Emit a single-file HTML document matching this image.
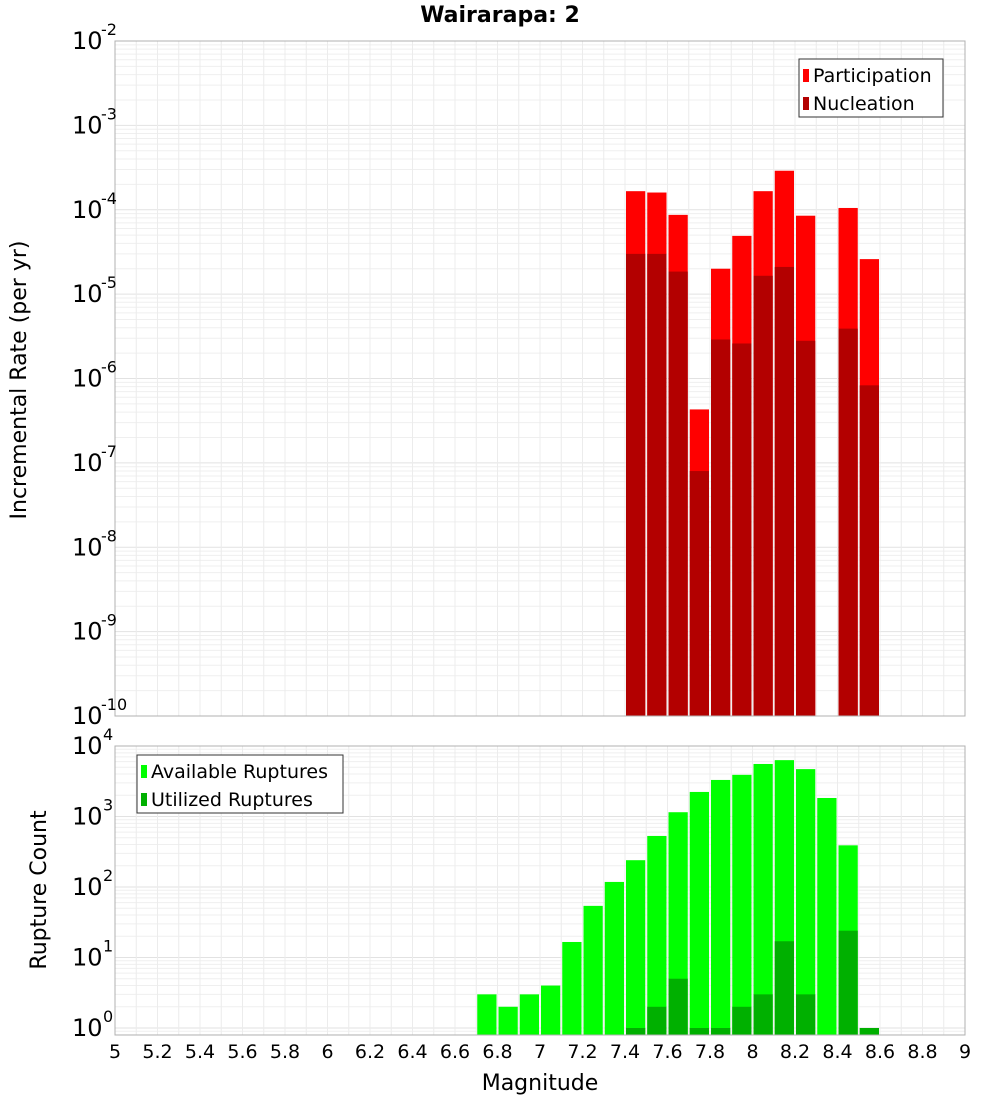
<!DOCTYPE html>
<html><head><meta charset="utf-8"><style>
body{margin:0;background:#fff;font-family:"DejaVu Sans","Liberation Sans",sans-serif}
svg text{font-family:"DejaVu Sans","Liberation Sans",sans-serif}
</style></head><body>
<svg id="c" width="1000" height="1100" xmlns="http://www.w3.org/2000/svg">
<text x="500" y="22" text-anchor="middle" font-size="22" font-weight="bold">Wairarapa: 2</text>
<g id="topg"></g><g id="botg"></g>
<text transform="translate(26,380) rotate(-90)" text-anchor="middle" font-size="22">Incremental Rate (per yr)</text>
<text transform="translate(46,890) rotate(-90)" text-anchor="middle" font-size="22">Rupture Count</text>
<text x="540" y="1090" text-anchor="middle" font-size="22">Magnitude</text>
</svg>
<script>
const bins=[7.45,7.55,7.65,7.75,7.85,7.95,8.05,8.15,8.25,8.45,8.55];
const participation=[1.66e-4,1.6e-4,8.7e-5,4.3e-7,2.0e-5,4.9e-5,1.66e-4,2.9e-4,8.5e-5,1.05e-4,2.6e-5];
const nucleation=[3.0e-5,3.0e-5,1.85e-5,8e-8,2.9e-6,2.6e-6,1.65e-5,2.1e-5,2.8e-6,3.9e-6,8.3e-7];
const countBins=[6.75,6.85,6.95,7.05,7.15,7.25,7.35,7.45,7.55,7.65,7.75,7.85,7.95,8.05,8.15,8.25,8.35,8.45,8.55];
const available=[3,2,3,4,16.6,54,118,240,530,1150,2230,3300,3900,5560,6300,4700,1830,390,1];
const utilized=[0,0,0,0,0,0,0,1,2,5,1,1,2,3,17,3,0,24,1];
const xTicks=[5,5.2,5.4,5.6,5.8,6,6.2,6.4,6.6,6.8,7,7.2,7.4,7.6,7.8,8,8.2,8.4,8.6,8.8,9];
const topExps=[-2,-3,-4,-5,-6,-7,-8,-9,-10];
const botExps=[4,3,2,1,0];
const NS="http://www.w3.org/2000/svg";
const X0=115,X1=965;
const xs=m=>X0+(m-5)/4*(X1-X0);
const yTop=v=>41+(-2-Math.log10(v))*84.375;
const yBot=v=>1028-Math.log10(v)*70.5;
function mk(p,t,a){const e=document.createElementNS(NS,t);for(const k in a)e.setAttribute(k,a[k]);p.appendChild(e);return e;}
const topG=document.getElementById('topg'),botG=document.getElementById('botg');
function panel(g,y0,y1,yf,dmin,dmax){
  for(let d=dmin;d<dmax;d++)for(let k=1;k<10;k++){const y=yf(k*Math.pow(10,d));if(y>=y0&&y<=y1){const l=mk(g,'line',{x1:X0,x2:X1,y1:y,y2:y,stroke:k==1?'#e2e2e2':'#efefef','stroke-width':1});

}}
  for(let m=5.1;m<9;m+=0.1){const x=xs(m);const l=mk(g,'line',{x1:x,x2:x,y1:y0,y2:y1,stroke:'#ececec'});

}
}
panel(topG,41,716,yTop,-10,-2);
panel(botG,746,1035,yBot,-1,4);
function bar(g,m,v,yf,base,col,name){const x=xs(m-0.05)+1,w=xs(m+0.05)-xs(m-0.05)-2;const y=yf(v);const r=mk(g,'rect',{x:x,y:y,width:w,height:base-y,fill:col});

}
bins.forEach((m,i)=>{bar(topG,m,participation[i],yTop,716,'#ff0000','participation-bar');bar(topG,m,nucleation[i],yTop,716,'#b30000','nucleation-bar');});
countBins.forEach((m,i)=>{if(available[i]>0)bar(botG,m,available[i],yBot,1035,'#00ff00','available-bar');if(utilized[i]>0)bar(botG,m,utilized[i],yBot,1035,'#00b000','utilized-bar');});
let f=mk(topG,'rect',{x:X0,y:41,width:X1-X0,height:675,fill:'none',stroke:'#b0b0b0'});


f=mk(botG,'rect',{x:X0,y:746,width:X1-X0,height:289,fill:'none',stroke:'#b0b0b0'});


topExps.forEach(e=>{const y=yTop(Math.pow(10,e));const t=mk(topG,'text',{x:72,y:y+8,'font-size':24});t.textContent='10';


const s=mk(topG,'text',{x:101,y:y-6,'font-size':16});s.textContent=String(e);

});
botExps.forEach(e=>{const y=yBot(Math.pow(10,e));const t=mk(botG,'text',{x:72,y:y+8,'font-size':24});t.textContent='10';


const s=mk(botG,'text',{x:103,y:y-6,'font-size':16});s.textContent=String(e);

});
xTicks.forEach(m=>{const t=mk(botG,'text',{x:xs(m),y:1058,'font-size':19,'text-anchor':'middle'});t.textContent=String(m);

});
function legend(g,x,y,w,items){const b=mk(g,'rect',{x:x,y:y,width:w,height:58,fill:'#fff',stroke:'#333'});


items.forEach((it,i)=>{const yy=y+6+i*28;const r=mk(g,'rect',{x:x+4,y:yy+4,width:6,height:13,fill:it[1]});


const t=mk(g,'text',{x:x+14,y:yy+17,'font-size':19});t.textContent=it[0];

});}
legend(topG,799,59,144,[['Participation','#ff0000'],['Nucleation','#b30000']]);
legend(botG,137,755,206,[['Available Ruptures','#00ff00'],['Utilized Ruptures','#00b000']]);
</script>
</body></html>
